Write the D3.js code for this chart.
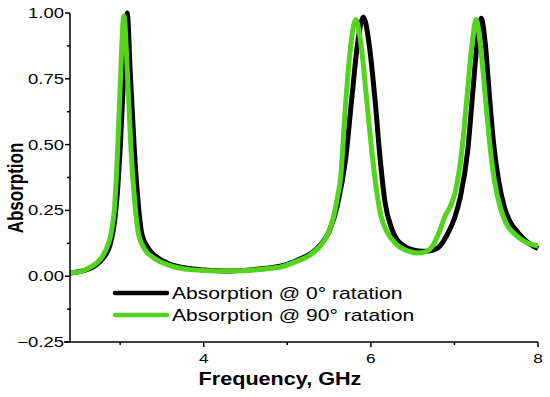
<!DOCTYPE html>
<html>
<head>
<meta charset="utf-8">
<script src="https://cdn.jsdelivr.net/npm/d3@7"></script>
<style>
    body { margin: 0; background: #fff; }
    text { font-family: "Liberation Sans", Arial, sans-serif; fill: #000; }
</style>
</head>
<body>
<script>
//absorption spectra
var freq0 = [2.4, 2.55, 2.7, 2.8, 2.88, 2.93, 2.97, 3.0, 3.04, 3.085, 3.12, 3.17, 3.21, 3.26, 3.35, 3.45, 3.6, 3.8, 4.0, 4.3, 4.6, 4.8, 5.0, 5.15, 5.3, 5.4, 5.5, 5.6, 5.7, 5.77, 5.84, 5.91, 5.98, 6.05, 6.11, 6.17, 6.25, 6.31, 6.42, 6.55, 6.67, 6.79, 6.9, 7.0, 7.07, 7.16, 7.22, 7.27, 7.32, 7.37, 7.42, 7.47, 7.53, 7.6, 7.66, 7.75, 7.87, 8.0];
var abs0 = [0.012, 0.02, 0.04, 0.07, 0.12, 0.2, 0.33, 0.48, 0.75, 1.0, 0.78, 0.48, 0.3, 0.16, 0.1, 0.07, 0.045, 0.03, 0.024, 0.02, 0.025, 0.032, 0.045, 0.065, 0.09, 0.12, 0.17, 0.27, 0.45, 0.67, 0.88, 0.985, 0.88, 0.67, 0.45, 0.28, 0.18, 0.14, 0.11, 0.097, 0.095, 0.105, 0.15, 0.22, 0.3, 0.48, 0.7, 0.88, 0.98, 0.88, 0.68, 0.5, 0.36, 0.26, 0.21, 0.17, 0.13, 0.105];

var freq90 = [2.4, 2.55, 2.65, 2.75, 2.83, 2.89, 2.93, 2.97, 3.0, 3.045, 3.09, 3.13, 3.17, 3.22, 3.3, 3.4, 3.6, 3.84, 4.2, 4.5, 4.8, 4.92, 5.1, 5.27, 5.38, 5.47, 5.55, 5.6, 5.64, 5.69, 5.75, 5.82, 5.89, 5.95, 6.02, 6.08, 6.12, 6.19, 6.31, 6.45, 6.56, 6.67, 6.74, 6.82, 6.89, 6.95, 7.01, 7.09, 7.15, 7.21, 7.26, 7.31, 7.37, 7.43, 7.48, 7.55, 7.62, 7.72, 7.85, 8.0];
var abs90 = [0.012, 0.02, 0.035, 0.06, 0.1, 0.16, 0.25, 0.48, 0.72, 0.99, 0.75, 0.48, 0.3, 0.16, 0.1, 0.07, 0.04, 0.025, 0.02, 0.022, 0.03, 0.035, 0.055, 0.08, 0.11, 0.15, 0.22, 0.3, 0.38, 0.62, 0.85, 0.975, 0.86, 0.67, 0.45, 0.3, 0.23, 0.17, 0.12, 0.095, 0.088, 0.095, 0.115, 0.17, 0.23, 0.265, 0.32, 0.48, 0.68, 0.88, 0.975, 0.88, 0.68, 0.48, 0.36, 0.26, 0.2, 0.16, 0.13, 0.115];

var xMajor = [4, 6, 8],
    xMinor = [3, 5, 7];
var yMajor = [-0.25, 0, 0.25, 0.5, 0.75, 1.0],
    yMinor = [-0.125, 0.125, 0.375, 0.625, 0.875];

var seriesNames = ["Absorption @ 0\u00b0 ratation", "Absorption @ 90\u00b0 ratation"];
var seriesColors = ["#000000", "#52d41c"];

var width = 550,
    height = 397;

//the picture is stretched sideways, so text is too
var stretch = 1.32;

var svg = d3.select("body")
    .append("svg")
    .attr("width", width)
    .attr("height", height);

var x = d3.scaleLinear()
    .domain([2.4, 8])
    .range([70, 538]);

var y = d3.scaleLinear()
    .domain([-0.25, 1.0])
    .range([342, 13]);

//curves
var line = d3.line()
    .x(function(d){ return x(d[0]); })
    .y(function(d){ return y(d[1]); })
    .curve(d3.curveMonotoneX);

var series = [d3.zip(freq0, abs0), d3.zip(freq90, abs90)];

svg.selectAll(".curve")
    .data(series)
    .enter()
    .append("path")
    .attr("class", "curve")
    .attr("d", line)
    .attr("fill", "none")
    .attr("stroke", function(d, i){ return seriesColors[i]; })
    .attr("stroke-width", 5)
    .attr("stroke-linejoin", "round");

//x axis
var xAxis = svg.append("g")
    .attr("transform", "translate(0," + y(-0.25) + ")");

xAxis.append("line")
    .attr("x1", 64).attr("x2", x(8))
    .attr("stroke", "#000").attr("stroke-width", 1.5);

xAxis.selectAll(".xmaj")
    .data(xMajor)
    .enter()
    .append("line")
    .attr("x1", function(d){ return x(d); })
    .attr("x2", function(d){ return x(d); })
    .attr("y2", 5)
    .attr("stroke", "#000").attr("stroke-width", 1.5);

xAxis.selectAll(".xmin")
    .data(xMinor)
    .enter()
    .append("line")
    .attr("x1", function(d){ return x(d); })
    .attr("x2", function(d){ return x(d); })
    .attr("y2", 3)
    .attr("stroke", "#000").attr("stroke-width", 1.5);

xAxis.selectAll(".xlab")
    .data(xMajor)
    .enter()
    .append("text")
    .attr("text-anchor", "middle")
    .attr("font-size", 13)
    .attr("transform", function(d){ return "translate(" + x(d) + ",21) scale(" + stretch + ",1)"; })
    .text(function(d){ return d; });

//y axis
var yAxis = svg.append("g")
    .attr("transform", "translate(" + x(2.4) + ",0)");

yAxis.append("line")
    .attr("y1", y(1.0)).attr("y2", y(-0.25))
    .attr("stroke", "#000").attr("stroke-width", 1.5);

yAxis.selectAll(".ymaj")
    .data(yMajor)
    .enter()
    .append("line")
    .attr("y1", function(d){ return y(d); })
    .attr("y2", function(d){ return y(d); })
    .attr("x2", -5)
    .attr("stroke", "#000").attr("stroke-width", 1.5);

yAxis.selectAll(".ymin")
    .data(yMinor)
    .enter()
    .append("line")
    .attr("y1", function(d){ return y(d); })
    .attr("y2", function(d){ return y(d); })
    .attr("x2", -3)
    .attr("stroke", "#000").attr("stroke-width", 1.5);

yAxis.selectAll(".ylab")
    .data(yMajor)
    .enter()
    .append("text")
    .attr("text-anchor", "end")
    .attr("font-size", 14)
    .attr("transform", function(d){ return "translate(-6," + (y(d) + 5) + ") scale(" + stretch + ",1)"; })
    .text(function(d){ return d3.format(".2f")(d); });

//axis titles
svg.append("text")
    .attr("text-anchor", "middle")
    .attr("font-size", 18)
    .attr("font-weight", "bold")
    .attr("transform", "translate(280,385) scale(1.2,1)")
    .text("Frequency, GHz");

svg.append("text")
    .attr("text-anchor", "middle")
    .attr("font-size", 17)
    .attr("font-weight", "bold")
    .attr("transform", "translate(23,188) rotate(-90) scale(1," + stretch + ")")
    .text("Absorption");

//legend
var legend = svg.selectAll(".legend")
    .data(seriesNames)
    .enter()
    .append("g")
    .attr("class", "legend")
    .attr("transform", function(d, i){ return "translate(115," + (293 + i * 22) + ")"; });

legend.append("line")
    .attr("x2", 52)
    .attr("stroke", function(d, i){ return seriesColors[i]; })
    .attr("stroke-width", 4.5)
    .attr("stroke-linecap", "round");

legend.append("text")
    .attr("font-size", 16)
    .attr("transform", "translate(57,6) scale(" + stretch + ",1)")
    .text(function(d){ return d; });
</script>
</body>
</html>
